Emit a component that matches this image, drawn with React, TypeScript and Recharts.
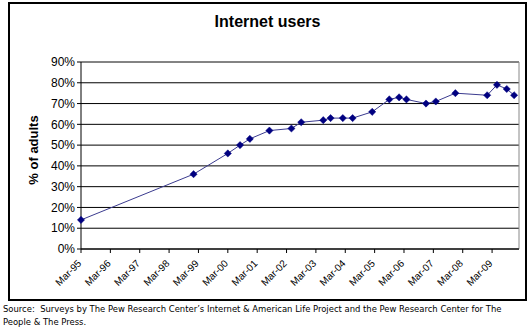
import React from "react";
import { LineChart, Line, XAxis, YAxis, CartesianGrid, ReferenceLine } from "recharts";

// Survey dates (year-month) and % of adults online
const surveyDates = [
  "1995-03", "1999-01", "2000-03", "2000-08", "2000-12", "2001-08", "2002-05",
  "2002-09", "2003-06", "2003-09", "2004-02", "2004-06", "2005-02", "2005-09",
  "2006-01", "2006-04", "2006-12", "2007-04", "2007-12", "2009-01", "2009-05",
  "2009-09", "2009-12",
];
const internetUsers = [
  14, 36, 46, 50, 53, 57, 58, 61, 62, 63, 63, 63, 66, 72, 73, 72, 70, 71, 75,
  74, 79, 77, 74,
];
const xTickLabels = [
  "Mar-95", "Mar-96", "Mar-97", "Mar-98", "Mar-99", "Mar-00", "Mar-01", "Mar-02",
  "Mar-03", "Mar-04", "Mar-05", "Mar-06", "Mar-07", "Mar-08", "Mar-09",
];
const yTicks = [0, 10, 20, 30, 40, 50, 60, 70, 80, 90];

const toMonths = (d: string) => {
  const [y, m] = d.split("-").map(Number);
  return (y - 1995) * 12 + (m - 3);
};

const data = surveyDates.map((d, i) => ({ t: toMonths(d), v: internetUsers[i] }));
const xTicks = xTickLabels.map((_, i) => i * 12);

const FONT = "Arial, 'Liberation Sans', sans-serif";

const XTick = (props: any) => {
  const { x, y, payload } = props;
  const label = xTickLabels[Math.round(payload.value / 12)];
  return (
    <text
      x={x + 1}
      y={y + 9}
      transform={`rotate(-45, ${x + 1}, ${y + 9})`}
      textAnchor="end"
      fontSize={10}
      fontFamily={FONT}
      fill="#000"
    >
      {label}
    </text>
  );
};

const Diamond = (props: any) => {
  const { cx, cy } = props;
  if (cx == null || cy == null) return null;
  const r = 3.6;
  return (
    <path
      d={`M${cx},${cy - r}L${cx + r},${cy}L${cx},${cy + r}L${cx - r},${cy}Z`}
      fill="#000080"
      stroke="#000080"
      strokeWidth={0.5}
    />
  );
};

export default function App() {
  return (
    <div style={{ position: "absolute", left: 0, top: 0, width: 530, height: 331, background: "#fff" }}>
      <div
        style={{
          position: "absolute",
          left: 8,
          top: 2,
          width: 515,
          height: 295,
          border: "2px solid #000",
        }}
      />
      <div
        style={{
          position: "absolute",
          left: 9,
          top: 13,
          width: 517,
          textAlign: "center",
          fontFamily: FONT,
          fontWeight: "bold",
          fontSize: 16,
        }}
      >
        Internet users
      </div>
      <div
        style={{
          position: "absolute",
          left: 33,
          top: 150,
          transform: "translate(-50%, -50%) rotate(-90deg)",
          whiteSpace: "nowrap",
          fontFamily: FONT,
          fontWeight: "bold",
          fontSize: 13,
          zIndex: 2,
        }}
      >
        % of adults
      </div>
      <div style={{ position: "absolute", left: 0, top: 0 }}>
        <LineChart
          width={530}
          height={300}
          data={data}
          margin={{ top: 62, right: 11, bottom: 0, left: 0 }}
        >
          <CartesianGrid horizontal vertical={false} stroke="#000" strokeWidth={1} />
          <XAxis
            dataKey="t"
            type="number"
            domain={[0, 179]}
            ticks={xTicks}
            interval={0}
            height={51}
            tick={<XTick />}
            tickSize={4}
            axisLine={{ stroke: "#000" }}
            tickLine={{ stroke: "#000" }}
          />
          <YAxis
            type="number"
            domain={[0, 90]}
            ticks={yTicks}
            interval={0}
            width={81}
            tickFormatter={(v: number) => `${v}%`}
            tick={{ fontSize: 12, fill: "#000", fontFamily: FONT }}
            tickSize={4}
            axisLine={{ stroke: "#000" }}
            tickLine={{ stroke: "#000" }}
          />
          <ReferenceLine y={90} stroke="#888" />
          <ReferenceLine x={179} stroke="#888" />
          <Line
            type="linear"
            dataKey="v"
            stroke="#3b3b8f"
            strokeWidth={1}
            dot={<Diamond />}
            isAnimationActive={false}
          />
        </LineChart>
      </div>
      <div
        style={{
          position: "absolute",
          left: 3,
          top: 302,
          fontFamily: "Tahoma, 'DejaVu Sans Condensed', 'Liberation Sans', sans-serif",
          fontSize: 9.4,
          lineHeight: "13px",
          color: "#000",
          whiteSpace: "nowrap",
        }}
      >
        <div>Source:&nbsp; Surveys by The Pew Research Center’s Internet &amp; American Life Project and the Pew Research Center for The</div>
        <div>People &amp; The Press.</div>
      </div>
    </div>
  );
}
